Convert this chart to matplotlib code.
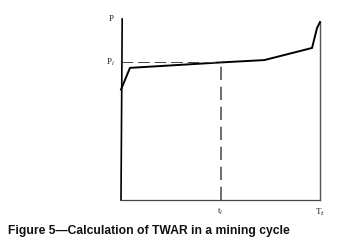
import matplotlib.pyplot as plt

# Production curve over one mining cycle (time and P in relative units)
t = [0, 4.5, 50, 72, 96, 98.5, 100]
p = [61, 73, 76, 77.3, 84, 95, 98.3]
t_i = 50
p_i = 76
t_end = 100
p_top = 100

fig = plt.figure(figsize=(3.4, 2.5), dpi=100)
ax = fig.add_axes([121 / 340, 0.2, 199 / 340, 181 / 250])
ax.set_xlim(0, 100)
ax.set_ylim(0, 100)
ax.axis('off')

# axes drawn by hand
ax.plot([0.6, 0], [p_top, 0], color='k', lw=1.2, clip_on=False)
ax.plot([0, t_end], [0, 0], color='#444444', lw=0.9, clip_on=False)
ax.plot([t_end, t_end], [0, p[-1]], color='#555555', lw=1.0, clip_on=False)

# curve
ax.plot(t, p, color='k', lw=1.4, clip_on=False)

# dashed guides
ax.plot([0, t_i], [p_i, p_i], color='#444444', lw=0.7, dashes=(12, 5))
ax.plot([t_i, t_i], [0, p_i], color='#555555', lw=1.2, dashes=(8, 4))

serif = dict(family='Liberation Serif', fontsize=6.5, color='#222222')
ax.text(-3.5, p_top, 'P', ha='right', va='center', **serif)
ax.text(-3, p_i, r'P$_i$', ha='right', va='center', **serif)
ax.text(t_i, -6.5, r't$_i$', ha='center', va='center', **serif)
ax.text(t_end, -6.5, r'T$_t$', ha='center', va='center', **serif)

fig.text(8 / 340, 1 - 231 / 250, 'Figure 5\u2014Calculation of TWAR in a mining cycle',
         family='Liberation Sans', fontweight='bold', fontsize=8.7, ha='left', va='center',
         color='#111111')

fig.savefig('out.png', dpi=100)
